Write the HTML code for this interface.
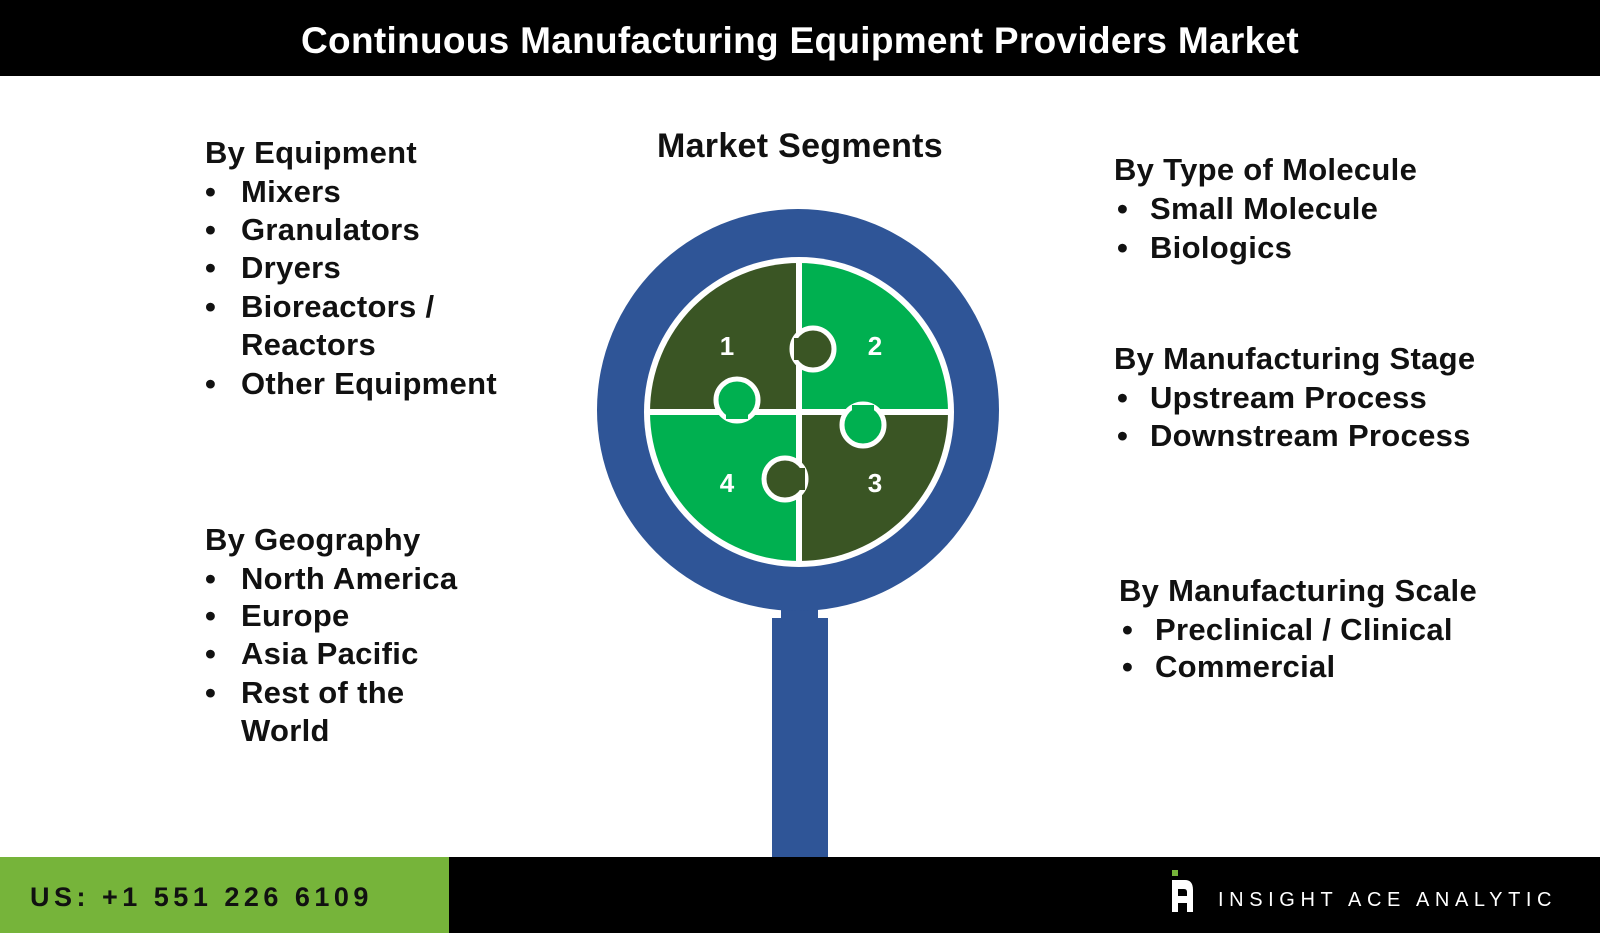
<!DOCTYPE html>
<html><head><style>
body{margin:0;width:1600px;height:933px;position:relative;background:#fff;font-family:"Liberation Sans",Arial,sans-serif;overflow:hidden}
.hd{position:absolute;left:0;top:0;width:1600px;height:76px;background:#000;color:#fff;font-weight:bold;font-size:37px;text-align:center;line-height:82px;letter-spacing:0.3px}
.t{position:absolute;font-weight:bold;font-size:31px;color:#111;white-space:nowrap;line-height:38px;letter-spacing:0.3px}
</style></head><body>
<div class="hd">Continuous Manufacturing Equipment Providers Market</div>
<div class="t" style="left:0;width:1600px;text-align:center;top:127px;font-size:34px">Market Segments</div>

<div class="t" style="left:205px;top:134px">By Equipment</div>
<div class="t" style="left:205px;top:173px">•</div><div class="t" style="left:241px;top:173px">Mixers</div>
<div class="t" style="left:205px;top:211px">•</div><div class="t" style="left:241px;top:211px">Granulators</div>
<div class="t" style="left:205px;top:249px">•</div><div class="t" style="left:241px;top:249px">Dryers</div>
<div class="t" style="left:205px;top:288px">•</div><div class="t" style="left:241px;top:288px">Bioreactors /</div>
<div class="t" style="left:241px;top:326px">Reactors</div>
<div class="t" style="left:205px;top:365px">•</div><div class="t" style="left:241px;top:365px">Other Equipment</div>

<div class="t" style="left:205px;top:521px">By Geography</div>
<div class="t" style="left:205px;top:560px">•</div><div class="t" style="left:241px;top:560px">North America</div>
<div class="t" style="left:205px;top:597px">•</div><div class="t" style="left:241px;top:597px">Europe</div>
<div class="t" style="left:205px;top:635px">•</div><div class="t" style="left:241px;top:635px">Asia Pacific</div>
<div class="t" style="left:205px;top:674px">•</div><div class="t" style="left:241px;top:674px">Rest of the</div>
<div class="t" style="left:241px;top:712px">World</div>

<div class="t" style="left:1114px;top:151px">By Type of Molecule</div>
<div class="t" style="left:1117px;top:190px">•</div><div class="t" style="left:1150px;top:190px">Small Molecule</div>
<div class="t" style="left:1117px;top:229px">•</div><div class="t" style="left:1150px;top:229px">Biologics</div>

<div class="t" style="left:1114px;top:340px">By Manufacturing Stage</div>
<div class="t" style="left:1117px;top:379px">•</div><div class="t" style="left:1150px;top:379px">Upstream Process</div>
<div class="t" style="left:1117px;top:417px">•</div><div class="t" style="left:1150px;top:417px">Downstream Process</div>

<div class="t" style="left:1119px;top:572px">By Manufacturing Scale</div>
<div class="t" style="left:1122px;top:611px">•</div><div class="t" style="left:1155px;top:611px">Preclinical / Clinical</div>
<div class="t" style="left:1122px;top:648px">•</div><div class="t" style="left:1155px;top:648px">Commercial</div>

<svg style="position:absolute;left:0;top:0" width="1600" height="933">
<rect x="781" y="600" width="37" height="24" fill="#2F5597"/>
<rect x="772" y="618" width="56" height="245" fill="#2F5597"/>
<circle cx="798" cy="410" r="201" fill="#2F5597"/>
<circle cx="799" cy="412" r="155" fill="#fff"/>
<path d="M799 412 L799 263 A149 149 0 0 0 650 412 Z" fill="#3A5524"/>
<path d="M799 412 L799 263 A149 149 0 0 1 948 412 Z" fill="#00B050"/>
<path d="M799 412 L948 412 A149 149 0 0 1 799 561 Z" fill="#3A5524"/>
<path d="M799 412 L799 561 A149 149 0 0 1 650 412 Z" fill="#00B050"/>
<line x1="799" y1="258" x2="799" y2="566" stroke="#fff" stroke-width="6"/>
<line x1="645" y1="412" x2="953" y2="412" stroke="#fff" stroke-width="6"/>
<circle cx="813" cy="349" r="21" fill="#3A5524" stroke="#fff" stroke-width="5"/>
<rect x="794" y="338" width="15" height="22" fill="#3A5524"/>
<circle cx="737" cy="400" r="21" fill="#00B050" stroke="#fff" stroke-width="5"/>
<rect x="726" y="404" width="22" height="15" fill="#00B050"/>
<circle cx="863" cy="425" r="21" fill="#00B050" stroke="#fff" stroke-width="5"/>
<rect x="852" y="405" width="22" height="16" fill="#00B050"/>
<circle cx="785" cy="479" r="21" fill="#3A5524" stroke="#fff" stroke-width="5"/>
<rect x="789" y="468" width="16" height="22" fill="#3A5524"/>
<g fill="#fff" font-family="Liberation Sans,Arial,sans-serif" font-weight="bold" font-size="26" text-anchor="middle">
<text x="727" y="355">1</text><text x="875" y="355">2</text><text x="875" y="492">3</text><text x="727" y="492">4</text>
</g>
<rect x="0" y="857" width="1600" height="76" fill="#000"/>
<rect x="0" y="857" width="449" height="76" fill="#76B43A"/>
<text x="30" y="906" font-family="Liberation Sans,Arial,sans-serif" font-weight="bold" font-size="27" fill="#111" letter-spacing="4.5">US: +1 551 226 6109</text>
<rect x="1172" y="870" width="6" height="6" fill="#76B43A"/>
<path d="M1172 880 L1185 880 Q1193 880 1193 890 L1193 912 L1187 912 L1187 903 L1178 903 L1178 912 L1172 912 Z M1178 889 L1178 896 L1187 896 L1187 892 Q1187 889 1184 889 Z" fill="#fff" fill-rule="evenodd"/>
<text x="1218" y="906" font-family="Liberation Sans,Arial,sans-serif" font-size="20" fill="#fff" letter-spacing="5.6">INSIGHT ACE ANALYTIC</text>
</svg>
</body></html>
